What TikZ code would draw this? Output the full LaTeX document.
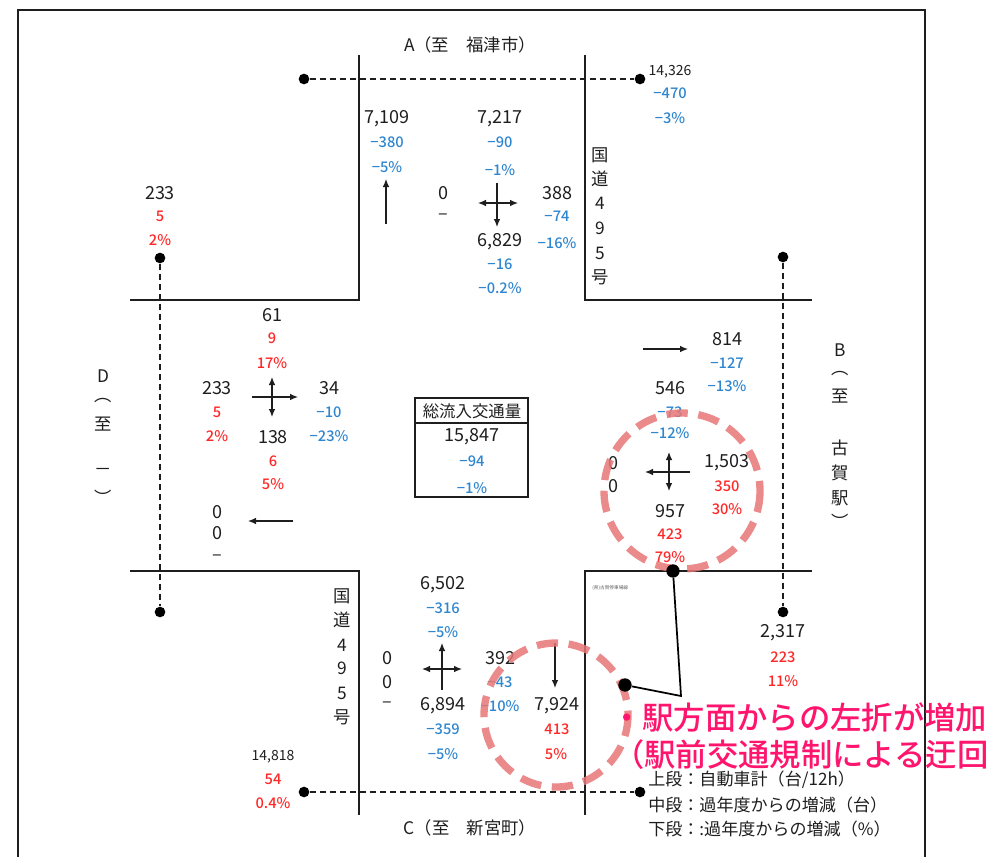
\documentclass[tikz,border=0pt]{standalone}
\usepackage{fontspec}
\setmainfont{Noto Sans CJK JP}
\IfFontExistsTF{Noto Sans CJK JP Medium}
  {\newfontfamily\medfont{Noto Sans CJK JP Medium}}
  {\newfontfamily\medfont{Noto Sans CJK JP}}
\usetikzlibrary{arrows.meta}
\definecolor{bl}{RGB}{46,134,208}
\definecolor{rd}{RGB}{255,40,40}
\definecolor{mg}{RGB}{255,20,110}
\definecolor{cir}{RGB}{232,118,118}
\definecolor{ink}{RGB}{30,30,30}
\begin{document}
\begin{tikzpicture}[x=0.75pt,y=-0.75pt,
  num/.style={font=\fontsize{13.5}{14}\selectfont, text=ink, inner sep=0},
  bln/.style={font=\medfont\fontsize{11}{12}\selectfont, text=bl, inner sep=0},
  rdn/.style={font=\medfont\fontsize{11}{12}\selectfont, text=rd, inner sep=0},
  sml/.style={font=\fontsize{10.5}{11}\selectfont, text=ink, inner sep=0},
  jlab/.style={font=\fontsize{13}{14}\selectfont, text=ink, inner sep=0},
  legend/.style={font=\fontsize{12.8}{14}\selectfont, text=ink, inner sep=0, anchor=west},
  note/.style={font=\medfont\fontsize{23.5}{25}\selectfont, text=mg, inner sep=0, anchor=west},
  road/.style={line width=1.5pt, ink},
  frameline/.style={line width=1.2pt, ink},
  dline/.style={line width=0.9pt, ink, dash pattern=on 4.5pt off 3pt},
  dotn/.style={circle, fill=black, inner sep=0, minimum size=8pt},
  arr/.style={line width=0.9pt, ink, -{Latex[length=6pt,width=5pt]}},
  arrb/.style={line width=0.9pt, ink, {Latex[length=6pt,width=5pt]}-{Latex[length=6pt,width=5pt]}},
  ring/.style={line width=5.5pt, cir, opacity=0.85, dash pattern=on 16pt off 8pt},
]
\useasboundingbox (0,0) rectangle (992,857);

% frame
\draw[frameline] (18,857) -- (18,10) -- (925,10) -- (925,857);

% roads
\draw[road] (359,55) -- (359,300) -- (130,300);
\draw[road] (585,55) -- (585,300) -- (812,300);
\draw[road] (130,571) -- (359,571) -- (359,815);
\draw[road] (812,571) -- (585,571) -- (585,815);

% survey points and dashed sections
\node[dotn] (pA1) at (304,79) {};
\node[dotn] (pA2) at (640,79) {};
\node[dotn] (pD1) at (160,258) {};
\node[dotn] (pD2) at (160,612) {};
\node[dotn] (pB1) at (783,257) {};
\node[dotn] (pB2) at (783,612) {};
\node[dotn] (pC1) at (304,792) {};
\node[dotn] (pC2) at (640,792) {};
\draw[dline] (pA1) -- (pA2);
\draw[dline] (pD1) -- (pD2);
\draw[dline] (pB1) -- (pB2);
\draw[dline] (pC1) -- (pC2);

% direction labels
\node[jlab] (labA) at (470,45) {A（至　福津市）};
\node[jlab] (labC) at (470,828) {C（至　新宮町）};
\node[jlab] (labB1) at (840,350) {B};
\node[jlab] (labB2) at (840,374) {︵};
\node[jlab] (labB3) at (840,396) {至};
\node[jlab] (labB4) at (840,448) {古};
\node[jlab] (labB5) at (840,473) {賀};
\node[jlab] (labB6) at (840,498) {駅};
\node[jlab] (labB7) at (840,521) {︶};
\node[jlab] (labD1) at (103,376) {D};
\node[jlab] (labD2) at (103,401) {︵};
\node[jlab] (labD3) at (103,424) {至};
\node[jlab] (labD4) at (103,472) {－};
\node[jlab] (labD5) at (103,497) {︶};
% route 495
\node[jlab] (r1a) at (600,155) {国};
\node[jlab] (r1b) at (600,179) {道};
\node[jlab] (r1c) at (600,203) {4};
\node[jlab] (r1d) at (600,228) {9};
\node[jlab] (r1e) at (600,253) {5};
\node[jlab] (r1f) at (600,277) {号};
\node[jlab] (r2a) at (342,596) {国};
\node[jlab] (r2b) at (342,620) {道};
\node[jlab] (r2c) at (342,645) {4};
\node[jlab] (r2d) at (342,668) {9};
\node[jlab] (r2e) at (342,693) {5};
\node[jlab] (r2f) at (342,717) {号};

% section totals
\node[sml] (tA1) at (670,72) {14,326};
\node[bln] (tA2) at (670,93) {−470};
\node[bln] (tA3) at (670,118) {−3\%};
\node[num] (tD1) at (160,193) {233};
\node[rdn] (tD2) at (160,216) {5};
\node[rdn] (tD3) at (160,240) {2\%};
\node[num] (tB1) at (783,633) {2,317};
\node[rdn] (tB2) at (783,657) {223};
\node[rdn] (tB3) at (783,681) {11\%};
\node[sml] (tC1) at (273,757) {14,818};
\node[rdn] (tC2) at (273,779) {54};
\node[rdn] (tC3) at (273,803) {0.4\%};

% approach A
\node[num] (a1) at (387,119) {7,109};
\node[bln] (a2) at (387,142) {−380};
\node[bln] (a3) at (387,167) {−5\%};
\node[num] (a4) at (500,119) {7,217};
\node[bln] (a5) at (500,142) {−90};
\node[bln] (a6) at (500,170) {−1\%};
\node[num] (a7) at (443,193) {0};
\node[num] (a8) at (443,217) {–};
\node[num] (a9) at (557,193) {388};
\node[bln] (a10) at (557,216) {−74};
\node[bln] (a11) at (557,243) {−16\%};
\node[num] (a12) at (500,242) {6,829};
\node[bln] (a13) at (500,264) {−16};
\node[bln] (a14) at (500,288) {−0.2\%};
\coordinate (aU1) at (386,224); \coordinate (aU2) at (386,179);
\draw[arr] (aU1) -- (aU2);
\coordinate (aH1) at (478,203); \coordinate (aH2) at (518,203);
\draw[arrb] (aH1) -- (aH2);
\coordinate (aV1) at (497,183); \coordinate (aV2) at (497,227);
\draw[arr] (aV1) -- (aV2);

% approach D
\node[num] (d1) at (272,315) {61};
\node[rdn] (d2) at (272,338) {9};
\node[rdn] (d3) at (272,363) {17\%};
\node[num] (d4) at (217,388) {233};
\node[rdn] (d5) at (217,412) {5};
\node[rdn] (d6) at (217,436) {2\%};
\node[num] (d7) at (329,388) {34};
\node[bln] (d8) at (329,412) {−10};
\node[bln] (d9) at (329,436) {−23\%};
\node[num] (d10) at (273,437) {138};
\node[rdn] (d11) at (273,461) {6};
\node[rdn] (d12) at (273,484) {5\%};
\node[num] (d13) at (217,512) {0};
\node[num] (d14) at (217,533) {0};
\node[num] (d15) at (217,558) {–};
\coordinate (dH1) at (252,397); \coordinate (dH2) at (298,397);
\draw[arr] (dH1) -- (dH2);
\coordinate (dV1) at (272,377); \coordinate (dV2) at (272,417);
\draw[arrb] (dV1) -- (dV2);
\coordinate (dL1) at (293,521); \coordinate (dL2) at (248,521);
\draw[arr] (dL1) -- (dL2);

% total box
\node[draw=ink, line width=1.2pt, minimum width=113*0.75pt, minimum height=99*0.75pt, inner sep=0] (box) at (471.5,447.5) {};
\draw[line width=1.2pt, ink] (415,423) -- (528,423);
\node[font=\fontsize{12.3}{13}\selectfont, text=ink, inner sep=0] (bx1) at (472,411) {総流入交通量};
\node[num] (bx2) at (472,437) {15,847};
\node[bln] (bx3) at (472,461) {−94};
\node[bln] (bx4) at (472,488) {−1\%};

% approach B
\coordinate (bR1) at (643,349); \coordinate (bR2) at (688,349);
\draw[arr] (bR1) -- (bR2);
\node[num] (b1) at (727,339) {814};
\node[bln] (b2) at (727,363) {−127};
\node[bln] (b3) at (727,386) {−13\%};
\node[num] (b4) at (670,388) {546};
\node[bln] (b5) at (670,412) {−73};
\node[bln] (b6) at (670,433) {−12\%};
\node[num] (b7) at (613,463) {0};
\node[num] (b8) at (613,486) {0};
\node[num] (b9) at (727,463) {1,503};
\node[rdn] (b10) at (727,486) {350};
\node[rdn] (b11) at (727,509) {30\%};
\node[num] (b12) at (670,511) {957};
\node[rdn] (b13) at (670,534) {423};
\node[rdn] (b14) at (670,557) {79\%};
\coordinate (bH1) at (690,472); \coordinate (bH2) at (645,472);
\draw[arr] (bH1) -- (bH2);
\coordinate (bV1) at (669,452); \coordinate (bV2) at (669,491);
\draw[arrb] (bV1) -- (bV2);

% approach C
\node[num] (c1) at (443,585) {6,502};
\node[bln] (c2) at (443,608) {−316};
\node[bln] (c3) at (443,632) {−5\%};
\node[num] (c4) at (387,658) {0};
\node[num] (c5) at (387,682) {0};
\node[num] (c6) at (387,705) {–};
\node[num] (c7) at (500,658) {392};
\node[bln] (c8) at (500,682) {−43};
\node[bln] (c9) at (500,706) {−10\%};
\node[num] (c10) at (443,706) {6,894};
\node[bln] (c11) at (443,729) {−359};
\node[bln] (c12) at (443,754) {−5\%};
\node[num] (c13) at (557,706) {7,924};
\node[rdn] (c14) at (557,729) {413};
\node[rdn] (c15) at (556,754) {5\%};
\coordinate (cH1) at (422,669); \coordinate (cH2) at (462,669);
\draw[arrb] (cH1) -- (cH2);
\coordinate (cV1) at (442,690); \coordinate (cV2) at (442,643);
\draw[arr] (cV1) -- (cV2);
\coordinate (cD1) at (555,643); \coordinate (cD2) at (555,688);
\draw[arr] (cD1) -- (cD2);

\node[font=\fontsize{3.5}{4}\selectfont, text=ink!70, inner sep=0, anchor=west] (small) at (592,588) {(県)古賀停車場線};

% highlight rings
\draw[ring] (682,491) circle[radius=78];
\draw[ring] (556,715) circle[radius=72];

% callout line
\node[dotn, minimum size=10pt] (k1) at (673,571) {};
\node[dotn, minimum size=10pt] (k2) at (625,685) {};
\coordinate (kb) at (681,696);
\draw[line width=1.3pt, black] (k1) -- (kb) -- (k2);

% notes
\node[note] (n1) at (611,717) {・駅方面からの左折が増加};
\node[note] (n2) at (613,755) {（駅前交通規制による迂回};

% legend
\node[legend] (lg1) at (648,780) {上段：自動車計（台/12h）};
\node[legend] (lg2) at (648,805) {中段：過年度からの増減（台）};
\node[legend] (lg3) at (648,829) {下段：:過年度からの増減（\%）};
\end{tikzpicture}
\end{document}
